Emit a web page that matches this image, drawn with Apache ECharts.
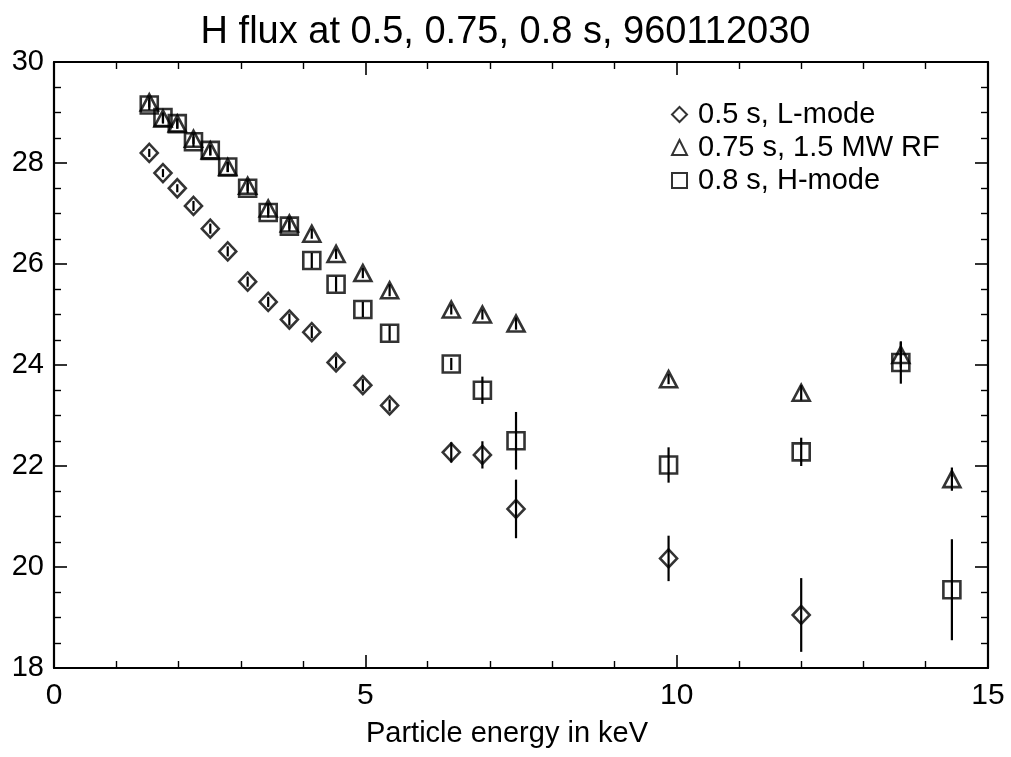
<!DOCTYPE html>
<html>
<head>
<meta charset="utf-8">
<script src="https://cdn.jsdelivr.net/npm/echarts@6/dist/echarts.min.js"></script>
<style>
html,body{margin:0;padding:0;background:#fff;}
#chart{width:1011px;height:757px;}
</style>
</head>
<body>
<div id="chart"></div>
<script>
const titleText = 'H flux at 0.5, 0.75, 0.8 s, 960112030';
const xAxisName = 'Particle energy in keV';
const seriesNames = ['0.5 s, L-mode', '0.75 s, 1.5 MW RF', '0.8 s, H-mode'];

const energy = [1.53, 1.75, 1.98, 2.24, 2.51, 2.79, 3.11, 3.44, 3.78, 4.14, 4.53, 4.96, 5.39, 6.38, 6.88, 7.42, 9.87, 12.0, 13.6, 14.42];

const lmodeFlux = [28.2, 27.8, 27.5, 27.15, 26.7, 26.25, 25.65, 25.25, 24.9, 24.65, 24.05, 23.6, 23.2, 22.27, 22.22, 21.15, 20.17, 19.05];
const lmodeErr  = [0.08, 0.08, 0.08, 0.1, 0.1, 0.1, 0.1, 0.1, 0.12, 0.12, 0.12, 0.12, 0.12, 0.2, 0.27, 0.58, 0.45, 0.73];

const rfFlux = [29.2, 28.88, 28.78, 28.48, 28.25, 27.92, 27.55, 27.1, 26.8, 26.6, 26.2, 25.82, 25.48, 25.1, 25.0, 24.82, 23.72, 23.45, 24.2, 21.74];
const rfErr  = [0.1, 0.1, 0.1, 0.1, 0.1, 0.1, 0.1, 0.1, 0.1, 0.1, 0.1, 0.1, 0.12, 0.1, 0.1, 0.12, 0.1, 0.15, 0.25, 0.23];

const hmodeFlux = [29.15, 28.9, 28.78, 28.42, 28.25, 27.92, 27.5, 27.02, 26.75, 26.07, 25.6, 25.1, 24.63, 24.02, 23.5, 22.5, 22.02, 22.28, 24.05, 19.55];
const hmodeErr  = [0.1, 0.1, 0.1, 0.1, 0.1, 0.1, 0.1, 0.1, 0.1, 0.15, 0.15, 0.15, 0.15, 0.12, 0.27, 0.57, 0.35, 0.28, 0.42, 1.0];

const xTicks = [0, 5, 10, 15];
const yTicks = [18, 20, 22, 24, 26, 28, 30];

function pts(vals) { return vals.map((v, i) => [energy[i], v]); }
function errs(vals, e) { return vals.map((v, i) => [energy[i], v - e[i], v + e[i]]); }

const FONT = '"Liberation Sans", Arial, sans-serif';
const markerStyle = { color: 'rgba(255,255,255,0)', borderColor: '#000', borderWidth: 2.6 };

function errSeries(data) {
  return {
    type: 'custom',
    silent: true,
    data: data,
    z: 1,
    renderItem: function (params, api) {
      const p1 = api.coord([api.value(0), api.value(1)]);
      const p2 = api.coord([api.value(0), api.value(2)]);
      return {
        type: 'line',
        shape: { x1: p1[0], y1: p1[1], x2: p2[0], y2: p2[1] },
        style: { stroke: '#000', lineWidth: 2.2 }
      };
    }
  };
}

const axisCommon = {
  axisLine: { show: true, onZero: false, lineStyle: { color: '#000', width: 2.2 } },
  axisTick: { show: true, inside: true, length: 13, lineStyle: { color: '#000', width: 1.6 } },
  minorTick: { show: true, length: 7, lineStyle: { color: '#000', width: 1.4 } },
  splitLine: { show: false },
  minorSplitLine: { show: false }
};

const chart = echarts.init(document.getElementById('chart'));
chart.setOption({
  backgroundColor: '#fff',
  animation: false,
  title: {
    text: titleText,
    left: 'center',
    top: 9,
    textStyle: { fontFamily: FONT, fontSize: 38, fontWeight: 'normal', color: '#000' }
  },
  legend: {
    orient: 'vertical',
    left: 666,
    top: 95,
    itemWidth: 15,
    itemHeight: 15,
    itemGap: 4,
    textStyle: { fontFamily: FONT, fontSize: 29, color: '#000', padding: [0, 0, 0, 6] },
    data: [
      { name: seriesNames[0], icon: 'diamond' },
      { name: seriesNames[1], icon: 'triangle' },
      { name: seriesNames[2], icon: 'rect' }
    ]
  },
  grid: { left: 54, right: 23, top: 62, bottom: 89 },
  xAxis: [
    Object.assign({}, axisCommon, {
      type: 'value', min: 0, max: 15, interval: 5, position: 'bottom',
      minorTick: Object.assign({}, axisCommon.minorTick, { splitNumber: 5 }),
      axisLabel: { show: true, fontFamily: FONT, fontSize: 30, color: '#000', margin: 13,
        formatter: v => xTicks.indexOf(v) >= 0 ? String(v) : '' },
      name: xAxisName, nameLocation: 'middle', nameGap: 51,
      nameTextStyle: { fontFamily: FONT, fontSize: 29, color: '#000', padding: [0, 28, 0, 0] }
    }),
    Object.assign({}, axisCommon, {
      type: 'value', min: 0, max: 15, interval: 5, position: 'top',
      minorTick: Object.assign({}, axisCommon.minorTick, { splitNumber: 5 }),
      axisLabel: { show: false }
    })
  ],
  yAxis: [
    Object.assign({}, axisCommon, {
      type: 'value', min: 18, max: 30, interval: 2, position: 'left',
      minorTick: Object.assign({}, axisCommon.minorTick, { splitNumber: 4 }),
      axisLabel: { show: true, fontFamily: FONT, fontSize: 29, color: '#000', margin: 10,
        formatter: v => yTicks.indexOf(v) >= 0 ? String(v) : '' }
    }),
    Object.assign({}, axisCommon, {
      type: 'value', min: 18, max: 30, interval: 2, position: 'right',
      minorTick: Object.assign({}, axisCommon.minorTick, { splitNumber: 4 }),
      axisLabel: { show: false }
    })
  ],
  series: [
    errSeries(errs(lmodeFlux, lmodeErr)),
    errSeries(errs(rfFlux, rfErr)),
    errSeries(errs(hmodeFlux, hmodeErr)),
    { name: seriesNames[0], type: 'scatter', symbol: 'diamond', symbolSize: [17, 18],
      itemStyle: markerStyle, data: pts(lmodeFlux), z: 3 },
    { name: seriesNames[1], type: 'scatter', symbol: 'triangle', symbolSize: [17, 16],
      itemStyle: markerStyle, data: pts(rfFlux), z: 3 },
    { name: seriesNames[2], type: 'scatter', symbol: 'rect', symbolSize: [17, 17],
      itemStyle: markerStyle, data: pts(hmodeFlux), z: 3 }
  ]
});
</script>
</body>
</html>
